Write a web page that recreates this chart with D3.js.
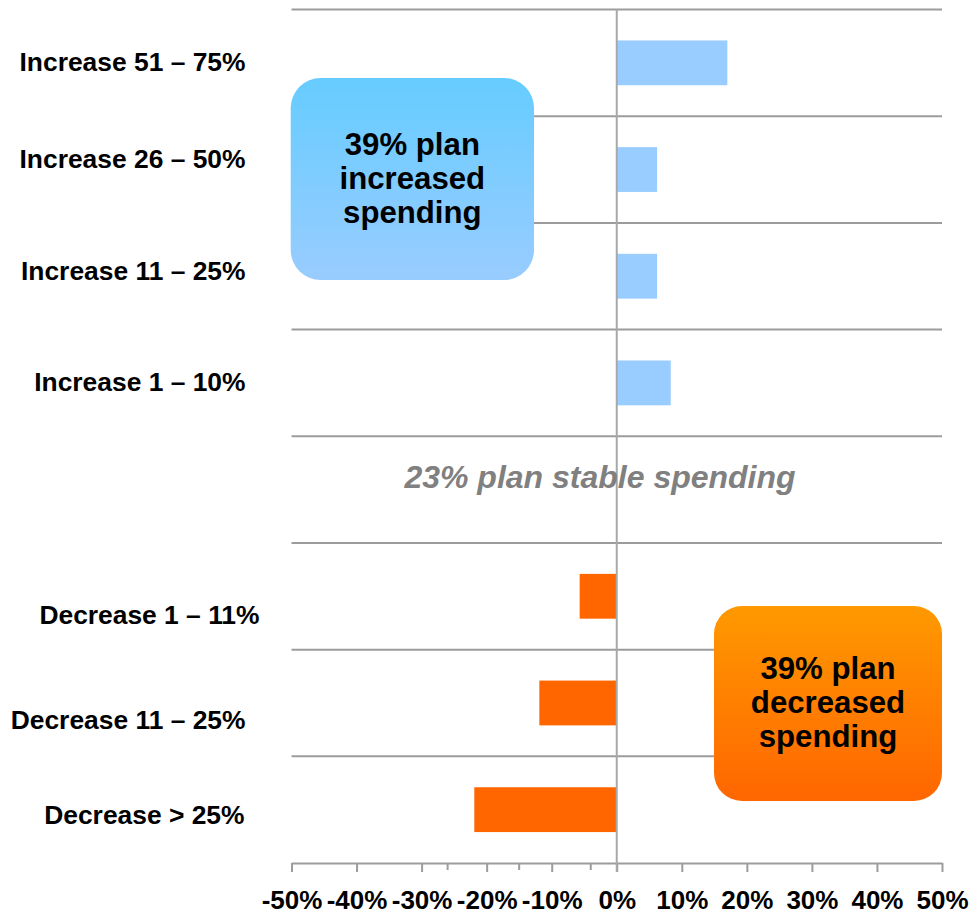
<!DOCTYPE html>
<html>
<head>
<meta charset="utf-8">
<script src="https://cdn.jsdelivr.net/npm/d3@7"></script>
<style>
  html, body { margin: 0; padding: 0; background: #fff; }
  svg { display: block; }
  text { font-family: "Liberation Sans", Arial, Helvetica, sans-serif; font-weight: bold; }
</style>
</head>
<body>
<svg id="chart" width="969" height="914"></svg>
<script>
// Planned change in spending: share of respondents per bracket (%); decreases plot to the left.
const categories = [
  "Increase 51 – 75%", "Increase 26 – 50%", "Increase 11 – 25%", "Increase 1 – 10%",
  "stable",
  "Decrease 1 – 11%", "Decrease 11 – 25%", "Decrease > 25%"
];
const shares = [17.0, 6.2, 6.2, 8.3, null, -5.7, -11.9, -21.9];
const tickValues = [-50, -40, -30, -20, -10, 0, 10, 20, 30, 40, 50];
const minorTicks = [-26, -15, -4];
const stableNote = "23% plan stable spending";
const increaseNote = ["39% plan", "increased", "spending"];
const decreaseNote = ["39% plan", "decreased", "spending"];

// Layout
const W = 969, H = 914;
const plot = { left: 291.5, right: 942, top: 9.5, bottom: 863 };
const labelRight = 245.5;
// per-row label nudges [dx, dy] (the left labels sit as free text boxes)
const labelNudge = [[0, -1], [0, -11], [0, -6], [0, -1], [0, 0], [14, 18], [0, 17], [-1, 5]];
const barFraction = 0.42;
const gridColor = "#9c9c9c";
const incColor = "#99ccff", decColor = "#ff6600";

const svg = d3.select("#chart");

const x = d3.scaleLinear().domain([-50, 50]).range([plot.left, plot.right]);
const y = d3.scaleBand().domain(categories).range([plot.top, plot.bottom]).padding(0);
const step = y.step();
const barH = y.bandwidth() * barFraction;

const rows = categories.map((c, i) => ({ cat: c, v: shares[i], i }));

// gradients for the callouts
const defs = svg.append("defs");
function grad(id, top, bottom) {
  const g = defs.append("linearGradient").attr("id", id)
    .attr("x1", 0).attr("y1", 0).attr("x2", 0).attr("y2", 1);
  g.append("stop").attr("offset", "0%").attr("stop-color", top);
  g.append("stop").attr("offset", "100%").attr("stop-color", bottom);
}
grad("gInc", "#66ccff", "#99ccff");
grad("gDec", "#ff9900", "#ff6600");

// horizontal separators at the top of every row
svg.append("g").selectAll("line")
  .data(categories)
  .join("line")
  .attr("x1", plot.left).attr("x2", plot.right)
  .attr("y1", d => y(d)).attr("y2", d => y(d))
  .attr("stroke", gridColor).attr("stroke-width", 2);

// bars
svg.append("g").selectAll("rect")
  .data(rows.filter(r => r.v !== null))
  .join("rect")
  .attr("x", r => x(Math.min(0, r.v)))
  .attr("width", r => Math.abs(x(r.v) - x(0)))
  .attr("y", r => y(r.cat) + (step - barH) / 2)
  .attr("height", barH)
  .attr("fill", r => r.v >= 0 ? incColor : decColor);

// bottom axis
const axis = d3.axisBottom(x)
  .tickValues(tickValues)
  .tickFormat(d => d + "%")
  .tickSize(9)
  .tickSizeOuter(0)
  .tickPadding(19);
const gx = svg.append("g").attr("transform", `translate(0,${plot.bottom})`).call(axis);
gx.select(".domain").attr("stroke", gridColor).attr("stroke-width", 2);
gx.selectAll(".tick line").attr("stroke", gridColor).attr("stroke-width", 2);
gx.selectAll(".tick text")
  .attr("fill", "#000")
  .style("font-size", "26px")
  .style("font-family", "'Liberation Sans', Arial, sans-serif")
  .style("font-weight", "bold");

gx.append("g").selectAll("line")
  .data(minorTicks)
  .join("line")
  .attr("x1", d => x(d)).attr("x2", d => x(d))
  .attr("y1", 0).attr("y2", 7)
  .attr("stroke", gridColor).attr("stroke-width", 2);

// zero line
svg.append("line")
  .attr("x1", x(0)).attr("x2", x(0))
  .attr("y1", plot.top).attr("y2", plot.bottom + 9)
  .attr("stroke", "#a8a8a8").attr("stroke-width", 2);

// row labels
svg.append("g").selectAll("text")
  .data(rows.filter(r => r.v !== null))
  .join("text")
  .attr("x", r => labelRight + labelNudge[r.i][0])
  .attr("y", r => y(r.cat) + step / 2 + labelNudge[r.i][1])
  .attr("dy", "0.36em")
  .attr("text-anchor", "end")
  .style("font-size", "26.4px")
  .attr("fill", "#000")
  .text(r => r.cat);

// stable-spending note in the empty row
svg.append("text")
  .attr("x", 600)
  .attr("y", y("stable") + step / 2)
  .attr("dy", "-0.04em")
  .attr("text-anchor", "middle")
  .style("font-size", "32px")
  .style("font-style", "italic")
  .attr("fill", "#808080")
  .text(stableNote);

// callout boxes
function callout(box, fill, rx, lines) {
  const g = svg.append("g");
  g.append("rect")
    .attr("x", box.x0).attr("y", box.y0)
    .attr("width", box.x1 - box.x0).attr("height", box.y1 - box.y0)
    .attr("rx", rx).attr("ry", rx)
    .attr("fill", `url(#${fill})`);
  const cx = (box.x0 + box.x1) / 2, cy = (box.y0 + box.y1) / 2;
  g.selectAll("text")
    .data(lines)
    .join("text")
    .attr("x", cx)
    .attr("y", (d, i) => cy - 24.5 + i * 34)
    .attr("text-anchor", "middle")
    .style("font-size", "31.2px")
    .attr("fill", "#000")
    .text(d => d);
}
callout({ x0: 290.7, x1: 534, y0: 78, y1: 280 }, "gInc", 30, increaseNote);
callout({ x0: 714, x1: 942, y0: 606, y1: 801 }, "gDec", 28, decreaseNote);
</script>
</body>
</html>
